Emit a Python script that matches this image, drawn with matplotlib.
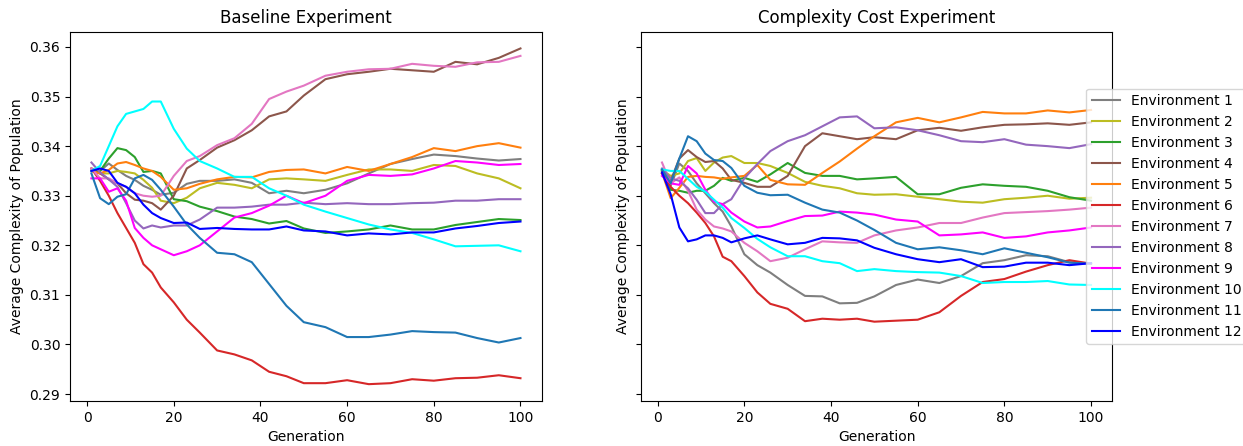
import numpy as np
import matplotlib.pyplot as plt

gens = [1, 3, 5, 7, 9, 11, 13, 15, 17, 20, 23, 26, 30, 34, 38, 42, 46, 50,
        55, 60, 65, 70, 75, 80, 85, 90, 95, 100]

labels = ['Environment %d' % i for i in range(1, 13)]
colors = ['tab:gray', 'tab:olive', 'tab:green', 'tab:brown', 'tab:orange', 'tab:red',
          'tab:pink', 'tab:purple', 'magenta', 'cyan', 'tab:blue', 'blue']

# Baseline experiment
base_env1 = [0.3355, 0.3350, 0.3365, 0.3352, 0.3340, 0.3332, 0.3320, 0.3312, 0.3302, 0.3306, 0.3324, 0.3330, 0.3330, 0.3333,
             0.3326, 0.3305, 0.3310, 0.3305, 0.3312, 0.3325, 0.3345, 0.3364, 0.3374, 0.3383, 0.3380, 0.3375, 0.3371, 0.3374]
base_env2 = [0.3350, 0.3345, 0.3345, 0.3350, 0.3348, 0.3345, 0.3332, 0.3316, 0.3290, 0.3285, 0.3296, 0.3315, 0.3326, 0.3322,
             0.3315, 0.3333, 0.3335, 0.3333, 0.3330, 0.3342, 0.3353, 0.3353, 0.3350, 0.3362, 0.3360, 0.3345, 0.3335, 0.3315]
base_env3 = [0.3350, 0.3350, 0.3375, 0.3396, 0.3392, 0.3378, 0.3348, 0.3350, 0.3345, 0.3293, 0.3289, 0.3278, 0.3269, 0.3258,
             0.3253, 0.3244, 0.3249, 0.3234, 0.3225, 0.3228, 0.3232, 0.3240, 0.3232, 0.3232, 0.3241, 0.3247, 0.3253, 0.3251]
base_env4 = [0.3350, 0.3345, 0.3333, 0.3325, 0.3305, 0.3292, 0.3290, 0.3285, 0.3272, 0.3300, 0.3355, 0.3372, 0.3397, 0.3412,
             0.3432, 0.3460, 0.3470, 0.3502, 0.3535, 0.3545, 0.3550, 0.3556, 0.3553, 0.3550, 0.3570, 0.3565, 0.3578, 0.3597]
base_env5 = [0.3350, 0.3345, 0.3352, 0.3365, 0.3368, 0.3362, 0.3355, 0.3350, 0.3338, 0.3312, 0.3315, 0.3324, 0.3333, 0.3338,
             0.3337, 0.3348, 0.3352, 0.3353, 0.3345, 0.3358, 0.3350, 0.3364, 0.3378, 0.3396, 0.3390, 0.3400, 0.3406, 0.3397]
base_env6 = [0.3355, 0.3330, 0.3300, 0.3265, 0.3235, 0.3205, 0.3162, 0.3145, 0.3115, 0.3085, 0.3050, 0.3024, 0.2988, 0.2980,
             0.2968, 0.2945, 0.2936, 0.2922, 0.2922, 0.2928, 0.2920, 0.2922, 0.2930, 0.2927, 0.2932, 0.2933, 0.2938, 0.2932]
base_env7 = [0.3355, 0.3335, 0.3335, 0.3325, 0.3318, 0.3305, 0.3300, 0.3298, 0.3300, 0.3340, 0.3370, 0.3380, 0.3402, 0.3416,
             0.3445, 0.3495, 0.3510, 0.3522, 0.3542, 0.3550, 0.3555, 0.3556, 0.3566, 0.3562, 0.3560, 0.3569, 0.3570, 0.3582]
base_env8 = [0.3367, 0.3347, 0.3333, 0.3318, 0.3285, 0.3250, 0.3234, 0.3240, 0.3236, 0.3240, 0.3240, 0.3252, 0.3276, 0.3276,
             0.3278, 0.3282, 0.3282, 0.3286, 0.3283, 0.3285, 0.3283, 0.3283, 0.3285, 0.3286, 0.3290, 0.3290, 0.3293, 0.3293]
base_env9 = [0.3335, 0.3335, 0.3308, 0.3315, 0.3290, 0.3235, 0.3215, 0.3200, 0.3192, 0.3180, 0.3188, 0.3200, 0.3228, 0.3256,
             0.3265, 0.3280, 0.3300, 0.3285, 0.3300, 0.3330, 0.3342, 0.3340, 0.3343, 0.3355, 0.3370, 0.3367, 0.3362, 0.3364]
base_env10 = [0.3350, 0.3360, 0.3400, 0.3440, 0.3465, 0.3470, 0.3475, 0.3490, 0.3490, 0.3435, 0.3395, 0.3370, 0.3355, 0.3338,
              0.3338, 0.3315, 0.3300, 0.3282, 0.3268, 0.3255, 0.3242, 0.3232, 0.3225, 0.3212, 0.3198, 0.3199, 0.3200, 0.3188]
base_env11 = [0.3345, 0.3295, 0.3283, 0.3298, 0.3303, 0.3335, 0.3342, 0.3332, 0.3312, 0.3278, 0.3242, 0.3215, 0.3185, 0.3182,
              0.3166, 0.3122, 0.3078, 0.3045, 0.3035, 0.3015, 0.3015, 0.3020, 0.3027, 0.3025, 0.3024, 0.3013, 0.3004, 0.3013]
base_env12 = [0.3350, 0.3355, 0.3350, 0.3326, 0.3318, 0.3305, 0.3282, 0.3265, 0.3255, 0.3245, 0.3246, 0.3233, 0.3235, 0.3233,
              0.3232, 0.3232, 0.3238, 0.3230, 0.3228, 0.3220, 0.3224, 0.3222, 0.3226, 0.3226, 0.3234, 0.3239, 0.3245, 0.3248]

# Complexity cost experiment
cost_env1 = [0.3352, 0.3320, 0.3365, 0.3350, 0.3325, 0.3305, 0.3285, 0.3268, 0.3238, 0.3182, 0.3160, 0.3145, 0.3120, 0.3098,
             0.3097, 0.3083, 0.3084, 0.3097, 0.3120, 0.3131, 0.3124, 0.3138, 0.3164, 0.3170, 0.3180, 0.3178, 0.3166, 0.3163]
cost_env2 = [0.3352, 0.3340, 0.3345, 0.3370, 0.3376, 0.3350, 0.3367, 0.3377, 0.3380, 0.3366, 0.3366, 0.3360, 0.3346, 0.3328,
             0.3320, 0.3315, 0.3305, 0.3302, 0.3303, 0.3298, 0.3293, 0.3288, 0.3286, 0.3293, 0.3296, 0.3300, 0.3294, 0.3296]
cost_env3 = [0.3350, 0.3312, 0.3310, 0.3306, 0.3310, 0.3310, 0.3320, 0.3336, 0.3330, 0.3336, 0.3328, 0.3343, 0.3366, 0.3346,
             0.3340, 0.3340, 0.3333, 0.3335, 0.3338, 0.3303, 0.3303, 0.3316, 0.3323, 0.3320, 0.3318, 0.3310, 0.3297, 0.3290]
cost_env4 = [0.3345, 0.3330, 0.3375, 0.3392, 0.3378, 0.3368, 0.3370, 0.3355, 0.3332, 0.3326, 0.3318, 0.3318, 0.3340, 0.3400,
             0.3426, 0.3420, 0.3414, 0.3418, 0.3414, 0.3432, 0.3437, 0.3431, 0.3438, 0.3443, 0.3444, 0.3446, 0.3443, 0.3448]
cost_env5 = [0.3347, 0.3295, 0.3316, 0.3338, 0.3340, 0.3338, 0.3337, 0.3334, 0.3337, 0.3340, 0.3362, 0.3332, 0.3323, 0.3322,
             0.3346, 0.3369, 0.3395, 0.3420, 0.3448, 0.3457, 0.3448, 0.3458, 0.3469, 0.3466, 0.3466, 0.3472, 0.3468, 0.3473]
cost_env6 = [0.3345, 0.3318, 0.3300, 0.3285, 0.3266, 0.3245, 0.3218, 0.3177, 0.3168, 0.3138, 0.3105, 0.3082, 0.3072, 0.3047,
             0.3052, 0.3050, 0.3052, 0.3046, 0.3048, 0.3050, 0.3065, 0.3098, 0.3126, 0.3132, 0.3147, 0.3160, 0.3170, 0.3163]
cost_env7 = [0.3367, 0.3325, 0.3337, 0.3310, 0.3272, 0.3252, 0.3238, 0.3234, 0.3228, 0.3205, 0.3188, 0.3168, 0.3175, 0.3192,
             0.3208, 0.3206, 0.3205, 0.3220, 0.3230, 0.3236, 0.3245, 0.3245, 0.3256, 0.3265, 0.3267, 0.3269, 0.3272, 0.3276]
cost_env8 = [0.3355, 0.3335, 0.3330, 0.3315, 0.3292, 0.3265, 0.3265, 0.3283, 0.3293, 0.3335, 0.3364, 0.3390, 0.3410, 0.3422,
             0.3440, 0.3458, 0.3460, 0.3436, 0.3438, 0.3432, 0.3422, 0.3410, 0.3408, 0.3414, 0.3403, 0.3400, 0.3396, 0.3404]
cost_env9 = [0.3340, 0.3325, 0.3322, 0.3360, 0.3345, 0.3312, 0.3288, 0.3283, 0.3266, 0.3248, 0.3236, 0.3238, 0.3249, 0.3259,
             0.3260, 0.3268, 0.3266, 0.3262, 0.3252, 0.3248, 0.3220, 0.3222, 0.3226, 0.3215, 0.3218, 0.3226, 0.3230, 0.3236]
cost_env10 = [0.3353, 0.3350, 0.3350, 0.3334, 0.3318, 0.3308, 0.3292, 0.3276, 0.3255, 0.3235, 0.3213, 0.3196, 0.3178, 0.3178,
              0.3168, 0.3164, 0.3148, 0.3152, 0.3148, 0.3146, 0.3145, 0.3138, 0.3124, 0.3126, 0.3126, 0.3128, 0.3121, 0.3120]
cost_env11 = [0.3353, 0.3325, 0.3375, 0.3420, 0.3410, 0.3385, 0.3372, 0.3370, 0.3356, 0.3320, 0.3306, 0.3301, 0.3302, 0.3286,
              0.3272, 0.3266, 0.3250, 0.3231, 0.3205, 0.3192, 0.3196, 0.3190, 0.3182, 0.3194, 0.3185, 0.3176, 0.3165, 0.3163]
cost_env12 = [0.3347, 0.3303, 0.3236, 0.3208, 0.3212, 0.3220, 0.3220, 0.3215, 0.3206, 0.3214, 0.3220, 0.3212, 0.3202, 0.3205,
              0.3215, 0.3214, 0.3210, 0.3195, 0.3182, 0.3172, 0.3166, 0.3172, 0.3156, 0.3157, 0.3165, 0.3165, 0.3160, 0.3164]

baseline = [base_env1, base_env2, base_env3, base_env4, base_env5, base_env6,
            base_env7, base_env8, base_env9, base_env10, base_env11, base_env12]
cost = [cost_env1, cost_env2, cost_env3, cost_env4, cost_env5, cost_env6,
        cost_env7, cost_env8, cost_env9, cost_env10, cost_env11, cost_env12]

fig, (ax1, ax2) = plt.subplots(1, 2, sharey=True, figsize=(12.43, 4.46), dpi=100)
fig.subplots_adjust(left=0.0563, right=0.895, wspace=0.209, top=0.929, bottom=0.101)

for ax, runs, title in [(ax1, baseline, 'Baseline Experiment'),
                        (ax2, cost, 'Complexity Cost Experiment')]:
    for vals, col, lab in zip(runs, colors, labels):
        ax.plot(gens, vals, color=col, label=lab)
    ax.set_title(title)
    ax.set_xlabel('Generation')
    ax.set_ylabel('Average Complexity of Population')

ax2.yaxis.set_tick_params(labelleft=False)
ax2.legend(loc='center left', bbox_to_anchor=(0.93, 0.5))

plt.savefig('out.png')
